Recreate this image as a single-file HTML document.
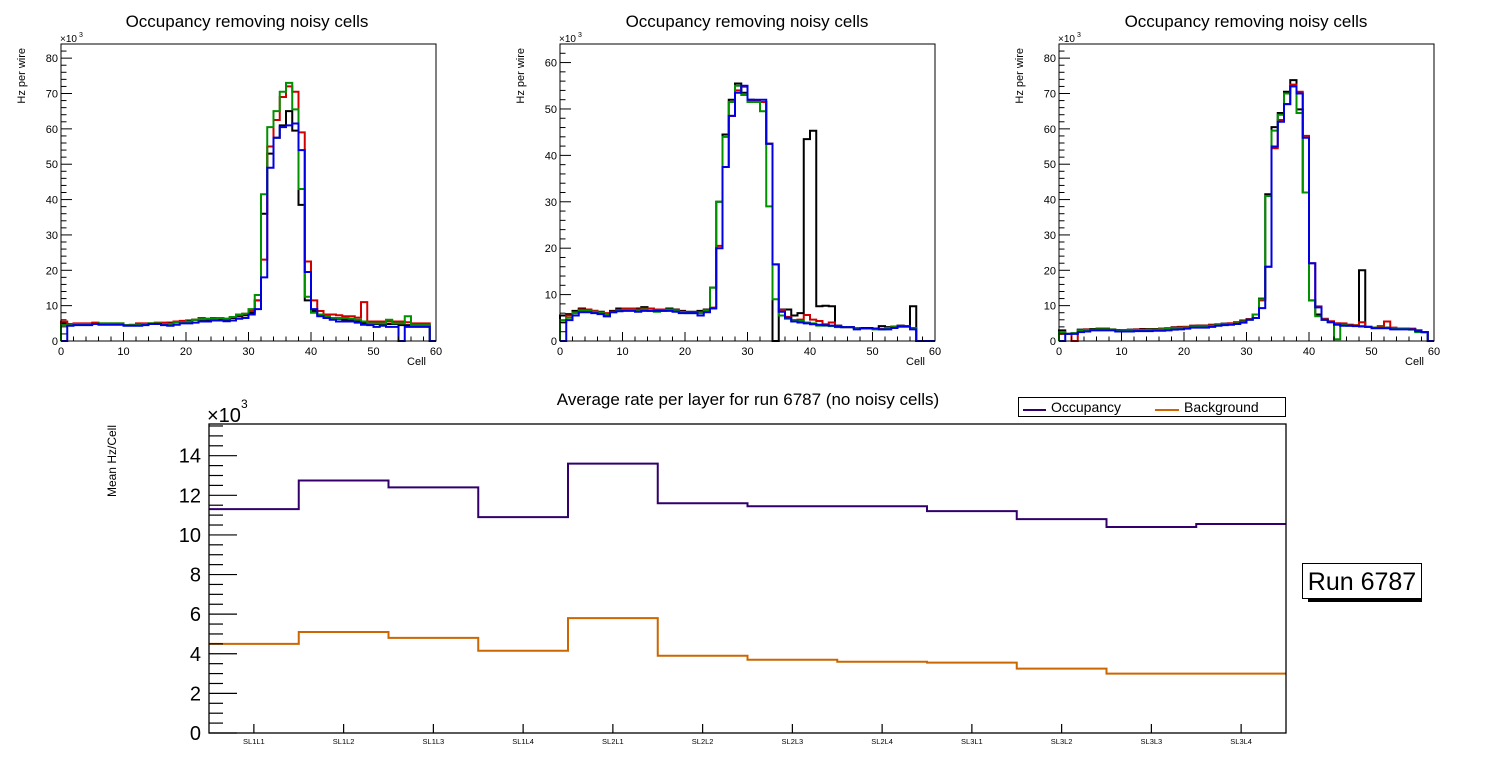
<!DOCTYPE html>
<html><head><meta charset="utf-8"><style>
html,body{margin:0;padding:0;background:#fff;}
svg{display:block;font-family:"Liberation Sans",Arial,sans-serif;}
</style></head><body>
<svg id="c" width="1496" height="772" viewBox="0 0 1496 772" xmlns="http://www.w3.org/2000/svg"></svg>
<script>
const cellBins = 60;
const black1=[5,4.5,4.8,4.8,4.8,5,4.8,4.8,4.8,4.8,4.5,4.5,4.6,4.8,5,5,4.8,5.2,5.3,5.5,5.8,6,6,6,6.2,6.2,6,6.5,7,7.3,8,11.5,36,53,57.5,61,65,59.5,38.5,11.5,8.5,7.5,7,6.5,6.3,6,5.8,5.5,5,5,4.8,4.8,4.8,4.8,4.5,4.5,4.5,4.5,4.5,0];
const red1=[5.5,4.8,5,5,5,5.2,5,5,5,5,4.5,4.6,5,5,5,5.2,5.2,5,5.5,5.7,5.5,6,6.5,6.3,6.5,6.5,6.3,6.8,7.3,7.7,8.5,11.5,23,55,62.5,69,72,70.5,59,22.5,11.5,8.5,7.5,7.5,7.3,7,7,6.6,11,5.5,5.5,5.5,5.5,5.5,5.5,5.3,5,5,5,0];
const green1=[4.5,4.5,4.8,4.8,4.8,4.8,5,5,5,5,4.5,4.5,4.6,4.8,5,5,4.8,4.8,5.3,5.3,5.5,6,6.2,6.3,6.3,6.5,6.3,6.8,7.5,7.7,9,13,41.5,60.5,65,70.5,73,65.5,43,12.5,8,7.5,7,6.5,6.5,6.5,6.3,6,5.5,5,5,5,6,5,5,7,4.5,4.5,4.5,0];
const blue1=[0,4.3,4.5,4.5,4.5,4.8,4.6,4.6,4.6,4.6,4.3,4.3,4.3,4.5,4.8,4.8,4.5,4.3,4.6,5,5,5.2,5.5,5.5,5.8,5.8,5.6,5.8,6.3,6.5,7.5,9,18,49,57.5,60.5,61,61.5,54,19.5,9,7,6.5,6,5.5,5.5,5.5,5.2,4.6,4.5,4,4.3,4,4,0,4,4,4,4,0];
const black2=[5.5,5.8,6.5,7,6.8,6.5,6.3,5.8,6.5,7,7,7,7,7.3,7,6.8,6.8,7,6.8,6.5,6.3,6.3,6.5,6.8,11.5,30,44.5,52,55.5,53.5,52,51.8,51.5,42.5,0,6.8,6.8,5.5,6,43.5,45.3,7.5,7.6,7.5,3.3,3,3,2.8,2.8,2.8,2.7,3.2,3,3.1,3.3,3.2,7.5,0,0,0];
const red2=[4,5.5,6.2,6.8,6.8,6.5,6.2,6,6.3,6.7,7,7,6.8,7,7,6.8,6.8,6.8,6.7,6.3,6.2,6.2,6.2,6.7,7.2,20.5,37.5,48.5,54,54.8,51.8,51.8,51.5,42.5,16.5,6.7,5.2,4.5,4.6,5.6,4.6,4.3,3.6,4,3.2,3,3,2.8,2.7,2.7,2.7,2.6,2.8,3,3.2,3.2,2.8,0,0,0];
const green2=[4.5,5,6,6.5,6.5,6.3,6,5.7,6.2,6.5,6.7,6.7,6.5,6.8,6.5,6.3,6.5,6.8,6.5,6.2,6,6,6,6.5,11.5,30,44,51.5,55,53,51.5,51.5,49.5,29,9,5.5,4.8,4.3,4.3,4,3.8,3.3,3.3,3.2,3,3,3,2.8,2.7,2.7,2.5,2.5,2.8,3,3.1,3.1,2.7,0,0,0];
const blue2=[0,4.5,5.5,6.2,6.2,6,5.8,5.3,6.2,6.4,6.5,6.5,6.3,6.5,6.5,6.5,6.5,6.5,6.3,6,6,6,5.5,6.2,7,20,37.5,48.5,53.5,55,52,52,52,42.5,16.5,6.3,5,4.2,4,3.8,3.6,3.5,3.4,3.3,3.1,3,3,2.5,2.7,2.7,2.7,2.5,2.5,2.8,3.1,3.1,2.5,0,0,0];
const black3=[3,2,2.2,3.2,3.3,3.4,3.5,3.5,3.3,3.1,3.1,3.2,3.3,3.4,3.4,3.4,3.5,3.6,3.9,4,4,4.3,4.4,4.4,4.6,4.7,4.9,5,5.3,5.8,6.2,7.5,12,41.5,60.5,64.5,70.5,73.8,65.5,42,11.5,7.5,6,5.4,5,4.8,4.6,4.4,20,4,3.8,3.8,3.8,3.6,3.5,3.5,3.4,3,2.5,0];
const red3=[2,2,0,3,3.2,3.2,3.3,3.3,3.2,3,3.1,3.1,3.2,3.2,3.3,3.3,3.4,3.5,3.8,3.9,4,4.3,4.3,4.3,4.5,4.6,4.8,5,5.2,5.6,6.2,7.5,11.5,21,54.5,62.5,67,72.5,70.5,58,22,9.8,6.3,5.6,5,5,4.5,4.5,5.3,4,3.8,4.2,5.5,3.8,3.5,3.5,3.5,2.8,2.5,0];
const green3=[2.5,2,2.2,3,3.1,3.2,3.3,3.3,3.2,3,3,3,3.1,3.1,3.2,3.2,3.3,3.4,3.6,3.7,3.8,4,4.1,4.1,4.3,4.5,4.7,4.8,5,5.5,6,7.5,11.8,41,59.5,64,70,72,64.5,42,11.5,7,6,5.3,0.5,4.5,4.3,4.3,4.2,4,3.8,3.8,3.7,3.5,3.4,3.4,3.2,2.5,2.5,0];
const blue3=[0,2,2,2.5,2.7,3,3,3,3,2.7,2.7,2.7,2.8,2.8,2.8,2.9,2.9,3,3.2,3.3,3.5,3.8,3.8,3.8,4,4.3,4.5,4.6,4.8,5.2,6,6.5,9.3,21,55,62,67,72,70,57.5,22,9.5,6,5.3,4.6,4.3,4.3,4.2,4.1,4,3.6,3.6,3.6,3.3,3.3,3.3,3.3,2.8,2.5,0];
const layers=["SL1L1","SL1L2","SL1L3","SL1L4","SL2L1","SL2L2","SL2L3","SL2L4","SL3L1","SL3L2","SL3L3","SL3L4"];
const occupancy=[11.3,12.75,12.4,10.9,13.6,11.6,11.45,11.45,11.2,10.8,10.4,10.55];
const background=[4.5,5.1,4.8,4.15,5.8,3.9,3.7,3.6,3.55,3.25,3.0,3.0];
const yTicksBottom=[0,2,4,6,8,10,12,14];

const NS="http://www.w3.org/2000/svg";
const svg=document.getElementById('c');
function el(tag,attrs,parent,text){const e=document.createElementNS(NS,tag);for(const k in attrs)e.setAttribute(k,attrs[k]);if(text!==undefined)e.textContent=text;(parent||svg).appendChild(e);return e;}

const panels=[
 {x0:61,x1:436,ymax:84,ticks:[0,10,20,30,40,50,60,70,80],series:[black1,red1,green1,blue1],cx:247,name:'left'},
 {x0:560,x1:935,ymax:64,ticks:[0,10,20,30,40,50,60],series:[black2,red2,green2,blue2],cx:747,name:'middle'},
 {x0:1059,x1:1434,ymax:84,ticks:[0,10,20,30,40,50,60,70,80],series:[black3,red3,green3,blue3],cx:1246,name:'right'}
];
const colors=['#000000','#d00000','#009000','#0000e0'];
const cnames=['black','red','green','blue'];
const yT=44,yB=341;
panels.forEach(p=>{
 const g=el('g',{});
 
 
 const sx=v=>p.x0+(p.x1-p.x0)*v/cellBins;
 const sy=v=>yB-(yB-yT)*v/p.ymax;
 const t=el('text',{x:p.cx,y:27,'text-anchor':'middle','font-size':17},g,'Occupancy removing noisy cells');
 
 p.series.forEach((s,si)=>{
  let d='M'+sx(0)+','+sy(0);
  for(let i=0;i<s.length;i++){d+=' L'+sx(i)+','+sy(s[i])+' L'+sx(i+1)+','+sy(s[i]);}
  d+=' L'+sx(s.length)+','+sy(0);
  const path=el('path',{d:d,fill:'none',stroke:colors[si],'stroke-width':2},g);
  
  
 });
 const fr=el('rect',{x:p.x0,y:yT,width:p.x1-p.x0,height:yB-yT,fill:'none',stroke:'#000','stroke-width':1},g);
 
 for(let v=0;v<=cellBins;v+=2){const big=v%10===0;el('line',{x1:sx(v),x2:sx(v),y1:yB,y2:yB-(big?9:4.5),stroke:'#000'},g);}
 for(let v=0;v<=p.ymax;v+=2){const big=v%10===0;el('line',{x1:p.x0,x2:p.x0+(big?11:5.5),y1:sy(v),y2:sy(v),stroke:'#000'},g);}
 for(let v=0;v<=60;v+=10){const tx=el('text',{x:sx(v),y:355,'text-anchor':'middle','font-size':11},g,String(v));}
 p.ticks.forEach(v=>{const tx=el('text',{x:p.x0-3,y:sy(v)+4,'text-anchor':'end','font-size':11},g,String(v));});
 const ex=el('text',{x:p.x0-1,y:42,'font-size':10},g,'×10');
 el('text',{x:p.x0+18,y:37,'font-size':7},g,'3');
 const xt=el('text',{x:p.x1-10,y:365,'text-anchor':'end','font-size':11},g,'Cell');
 const yt=el('text',{x:0,y:0,'text-anchor':'end','font-size':11,transform:'translate('+(p.x0-36)+','+48+') rotate(-90)'},g,'Hz per wire');
});

// bottom chart
const B={x0:209,x1:1286,yT:424,yB:733,ymax:15.6};
const bx=i=>B.x0+(B.x1-B.x0)*i/layers.length;
const by=v=>B.yB-(B.yB-B.yT)*v/B.ymax;
const bg=el('g',{});


const bt=el('text',{x:748,y:405,'text-anchor':'middle','font-size':17},bg,'Average rate per layer for run 6787 (no noisy cells)');

[[occupancy,'#33006b','occupancy-line'],[background,'#cc6600','background-line']].forEach(([s,c,n])=>{
 let d='M'+bx(0)+','+by(s[0]);
 for(let i=0;i<s.length;i++){d+=' L'+bx(i)+','+by(s[i])+' L'+bx(i+1)+','+by(s[i]);}
 const path=el('path',{d:d,fill:'none',stroke:c,'stroke-width':2},bg);
 
});
const bf=el('rect',{x:B.x0,y:B.yT,width:B.x1-B.x0,height:B.yB-B.yT,fill:'none',stroke:'#000','stroke-width':1.3},bg);

for(let v=0;v<=15.5;v+=0.5){const big=Math.abs(v%2)<1e-9;el('line',{x1:B.x0,x2:B.x0+(big?28:14),y1:by(v),y2:by(v),stroke:'#000','stroke-width':1.2},bg);}
yTicksBottom.forEach(v=>{const tx=el('text',{x:B.x0-8,y:by(v)+7,'text-anchor':'end','font-size':20},bg,String(v));});
layers.forEach((l,i)=>{const cx=(bx(i)+bx(i+1))/2;el('line',{x1:cx,x2:cx,y1:B.yB,y2:B.yB-9,stroke:'#000','stroke-width':1.2},bg);
 const tx=el('text',{x:cx,y:744,'text-anchor':'middle','font-size':7.5},bg,l);});
const bex=el('text',{x:207,y:422,'font-size':20},bg,'×10');
el('text',{x:241,y:408,'font-size':12},bg,'3');
const byt=el('text',{x:0,y:0,'text-anchor':'end','font-size':12,transform:'translate(116,425) rotate(-90)'},bg,'Mean Hz/Cell');

// legend
const lg=el('g',{});


el('rect',{x:1018.5,y:397.5,width:267,height:19,fill:'#fff',stroke:'#000','stroke-width':1},lg);
const l1=el('line',{x1:1023,x2:1046,y1:410,y2:410,stroke:'#33006b','stroke-width':2},lg);
const lt1=el('text',{x:1051,y:412,'font-size':14},lg,'Occupancy');
el('line',{x1:1155,x2:1179,y1:410,y2:410,stroke:'#cc6600','stroke-width':2},lg);
const lt2=el('text',{x:1184,y:412,'font-size':14},lg,'Background');
// run box
const rg=el('g',{});


el('rect',{x:1308,y:598,width:114,height:4,fill:'#000'},rg);
el('rect',{x:1302.5,y:563.5,width:119,height:35,fill:'#fff',stroke:'#000','stroke-width':1},rg);
el('text',{x:1362,y:590,'text-anchor':'middle','font-size':25},rg,'Run 6787');
</script>
</body></html>
